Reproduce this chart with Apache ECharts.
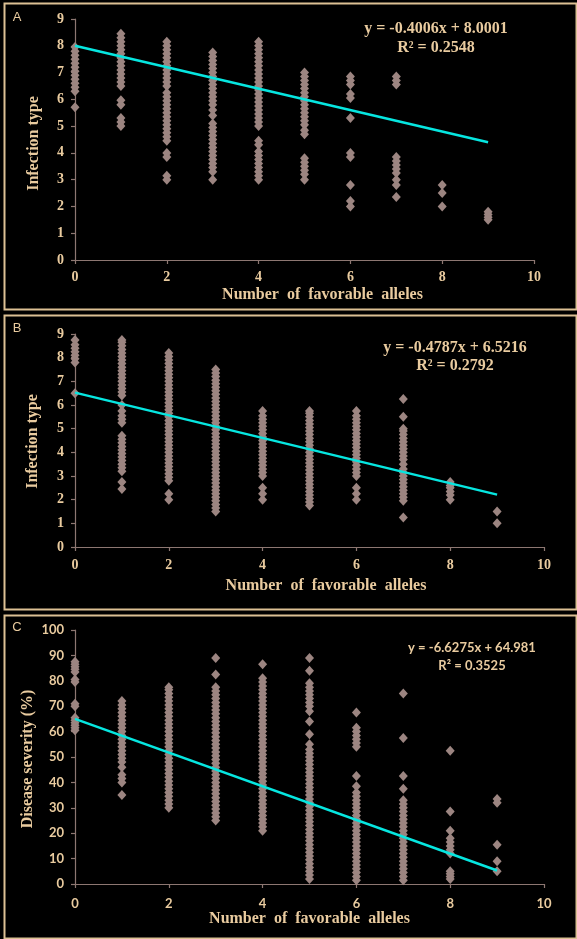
<!DOCTYPE html>
<html><head><meta charset="utf-8">
<script src="https://cdn.jsdelivr.net/npm/echarts@6/dist/echarts.min.js"></script>
<style>html,body{margin:0;padding:0;background:#000;}#c{width:577px;height:939px;}</style>
</head><body><div id="c"></div>
<script>
// ---------- DATA ----------
const xValues = [0, 1, 2, 3, 4, 5, 6, 7, 8, 9];
const xTicks = [0, 2, 4, 6, 8, 10];

// Panel A: infection type by number of favorable alleles
const A0 = [5.7, 6.3, 6.45, 6.6, 6.75, 6.9, 7.05, 7.2, 7.35, 7.5, 7.65, 7.8, 7.95];
const A1 = [5.0, 5.15, 5.3, 5.8, 5.97, 6.5, 6.65, 6.8, 6.95, 7.1, 7.25, 7.4, 7.55, 7.7, 7.85, 8.0, 8.15, 8.3, 8.45];
const A2 = [3.0, 3.15, 3.85, 4.0, 4.45, 4.6, 4.75, 4.9, 5.05, 5.2, 5.35, 5.5, 5.65, 5.8, 5.95, 6.1, 6.25, 6.5, 6.65, 6.8, 6.95, 7.1, 7.25, 7.4, 7.55, 7.7, 7.85, 8.0, 8.15];
const A3 = [3.0, 3.3, 3.45, 3.6, 3.75, 3.9, 4.05, 4.2, 4.35, 4.5, 4.65, 4.8, 4.95, 5.1, 5.4, 5.6, 5.8, 5.95, 6.1, 6.25, 6.4, 6.55, 6.7, 6.85, 7.0, 7.15, 7.3, 7.45, 7.6, 7.75];
const A4 = [3.0, 3.15, 3.3, 3.45, 3.6, 3.75, 3.9, 4.05, 4.3, 4.45, 5.0, 5.15, 5.3, 5.45, 5.6, 5.75, 5.9, 6.05, 6.2, 6.35, 6.5, 6.65, 6.8, 6.95, 7.1, 7.25, 7.4, 7.55, 7.7, 7.85, 8.0, 8.15];
const A5 = [3.0, 3.2, 3.35, 3.5, 3.65, 3.8, 4.7, 4.85, 5.05, 5.2, 5.35, 5.5, 5.65, 5.8, 5.95, 6.1, 6.25, 6.4, 6.55, 6.7, 6.85, 7.0];
const A6 = [2.0, 2.2, 2.8, 3.85, 4.0, 5.3, 6.05, 6.2, 6.55, 6.7, 6.85];
const A7 = [2.35, 2.8, 3.0, 3.25, 3.4, 3.55, 3.7, 3.85, 6.55, 6.7, 6.85];
const A8 = [2.0, 2.5, 2.8];
const A9 = [1.5, 1.6, 1.7, 1.8];
const trendA = [[0, 8.0001], [9, 4.3947]];

// Panel B
const B0 = [6.5, 7.8, 7.95, 8.1, 8.25, 8.4, 8.55, 8.75];
const B1 = [2.45, 2.75, 3.2, 3.35, 3.5, 3.65, 3.8, 3.95, 4.1, 4.25, 4.4, 4.55, 4.7, 5.25, 5.4, 5.55, 5.75, 6.0, 6.4, 6.55, 6.7, 6.85, 7.0, 7.15, 7.3, 7.45, 7.6, 7.75, 7.9, 8.05, 8.2, 8.35, 8.5, 8.65, 8.75];
const B2 = [2.0, 2.25, 2.8, 2.95, 3.1, 3.25, 3.4, 3.55, 3.7, 3.85, 4.0, 4.15, 4.3, 4.45, 4.6, 4.75, 4.9, 5.05, 5.2, 5.35, 5.5, 5.65, 5.8, 5.95, 6.1, 6.25, 6.4, 6.55, 6.7, 6.85, 7.0, 7.15, 7.3, 7.45, 7.6, 7.75, 7.9, 8.05, 8.2];
const B3 = [1.5, 1.65, 1.8, 1.95, 2.1, 2.25, 2.4, 2.55, 2.7, 2.85, 3.0, 3.15, 3.3, 3.45, 3.6, 3.75, 3.9, 4.05, 4.2, 4.35, 4.5, 4.65, 4.8, 4.95, 5.1, 5.25, 5.4, 5.55, 5.7, 5.85, 6.0, 6.15, 6.3, 6.45, 6.6, 6.75, 6.9, 7.05, 7.2, 7.35, 7.5];
const B4 = [2.0, 2.25, 2.5, 3.0, 3.15, 3.3, 3.45, 3.6, 3.75, 3.9, 4.05, 4.2, 4.35, 4.5, 4.65, 4.8, 4.95, 5.1, 5.25, 5.4, 5.55, 5.75];
const B5 = [1.75, 1.9, 2.05, 2.2, 2.35, 2.5, 2.65, 2.8, 2.95, 3.1, 3.25, 3.4, 3.55, 3.7, 3.85, 4.0, 4.15, 4.3, 4.45, 4.6, 4.75, 4.9, 5.05, 5.2, 5.35, 5.5, 5.65, 5.75];
const B6 = [2.0, 2.25, 2.5, 3.0, 3.15, 3.3, 3.45, 3.6, 3.75, 3.9, 4.05, 4.2, 4.35, 4.5, 4.65, 4.8, 4.95, 5.1, 5.25, 5.4, 5.55, 5.75];
const B7 = [1.25, 1.95, 2.1, 2.25, 2.4, 2.55, 2.7, 2.85, 3.0, 3.15, 3.3, 3.5, 3.7, 3.85, 4.0, 4.15, 4.3, 4.45, 4.6, 4.75, 4.9, 5.0, 5.5, 6.25];
const B8 = [2.0, 2.2, 2.35, 2.5, 2.6, 2.75];
const B9 = [1.0, 1.5];
const trendB = [[0, 6.5216], [9, 2.2133]];

// Panel C: disease severity (%)
const C0 = [60.5, 61.5, 62.5, 63.5, 64.5, 65.5, 70, 71, 79.5, 80.5, 83.5, 84.5, 85.5, 86.5, 87.5];
const C1 = [35, 40, 41.5, 43, 46, 48, 49.5, 51, 52.5, 54, 55.5, 57, 58.5, 60, 61.5, 63, 64.5, 66, 67.5, 69, 70.5, 72];
const C2 = [30, 31.5, 33, 34.5, 36, 37.5, 39, 40.5, 42, 43.5, 45, 46.5, 48, 49.5, 51, 52.5, 54, 55.5, 57, 58.5, 60, 61.5, 63, 64.5, 66, 67.5, 69, 70.5, 72, 73.5, 75, 76.5, 77.5];
const C3 = [25, 26.5, 28, 29.5, 31, 32.5, 34, 35.5, 37, 38.5, 40, 41.5, 43, 44.5, 46, 47.5, 49, 50.5, 52, 53.5, 55, 56.5, 58, 59.5, 61, 62.5, 64, 65.5, 67, 68.5, 70, 71.5, 73, 74.5, 76, 77.5, 82.5, 89];
const C4 = [21, 22.5, 24, 25.5, 27, 28.5, 30, 31.5, 33, 34.5, 36, 37.5, 39, 40.5, 42, 43.5, 45, 46.5, 48, 49.5, 51, 52.5, 54, 55.5, 57, 58.5, 60, 61.5, 63, 64.5, 66, 67.5, 69, 70.5, 72, 73.5, 75, 76.5, 78, 79.5, 81, 86.5];
const C5 = [2, 3.5, 5, 6.5, 8, 9.5, 11, 12.5, 14, 15.5, 17, 18.5, 20, 21.5, 23, 24.5, 26, 27.5, 29, 30.5, 32, 33.5, 35, 36.5, 38, 39.5, 41, 42.5, 44, 45.5, 47, 48.5, 50, 51.5, 53, 55, 59, 64, 68, 70, 71.5, 73, 74.5, 76, 77.5, 79, 84, 89];
const C6 = [1.5, 3, 4.5, 6, 7.5, 9, 10.5, 12, 13.5, 15, 16.5, 18, 19.5, 21, 22.5, 24, 25.5, 27, 28.5, 30, 31.5, 33, 34.5, 36, 38.5, 42.5, 54, 55.5, 57, 58.5, 60, 61.5, 67.5];
const C7 = [1.5, 3, 4.5, 6, 7.5, 9, 10.5, 12, 13.5, 15, 16.5, 18, 19.5, 21, 22.5, 24, 25.5, 27, 28.5, 30, 31.5, 33, 37.5, 42.5, 57.5, 75];
const C8 = [2, 3, 4, 5, 12, 13.5, 15, 16.5, 18, 21, 28.5, 52.5];
const C9 = [5, 9, 15.5, 32, 33.5];
const trendC = [[0, 64.981], [9, 5.3335]];

const colsA = [A0, A1, A2, A3, A4, A5, A6, A7, A8, A9];
const colsB = [B0, B1, B2, B3, B4, B5, B6, B7, B8, B9];
const colsC = [C0, C1, C2, C3, C4, C5, C6, C7, C8, C9];

// ---------- STYLE ----------
const TAN = '#e9cb9f';
const BORDER = '#dcc094';
const AXIS = '#8d7772';
const MARK = '#9c8581';
const CYAN = '#06e6e0';
const SERIF = 'Liberation Serif';

function toPoints(cols) {
  const out = [];
  cols.forEach((col, i) => col.forEach(v => out.push([xValues[i], v])));
  return out;
}

function xAxis(gi, labelFont, labelSize, labelMargin, nameGap, shift) {
  return {
    type: 'value', gridIndex: gi, min: 0, max: 10, interval: 2,
    name: 'Number  of  favorable  alleles', nameLocation: 'middle', nameGap: nameGap, nameMoveOverlap: false,
    nameTextStyle: { color: TAN, fontFamily: SERIF, fontWeight: 'bold', fontSize: 16, padding: [0, 0, 0, shift] },
    axisLine: { show: true, onZero: false, lineStyle: { color: AXIS, width: 1.2 } },
    axisTick: { show: true, inside: false, length: 4, lineStyle: { color: AXIS, width: 1.2 } },
    axisLabel: { color: TAN, fontFamily: labelFont, fontWeight: 'bold', fontSize: labelSize, margin: labelMargin,
      formatter: v => xTicks.includes(v) ? String(v) : '' },
    splitLine: { show: false }
  };
}
function yAxis(gi, max, interval, name, labelFont, labelSize, nameGap, pad) {
  return {
    type: 'value', gridIndex: gi, min: 0, max: max, interval: interval,
    name: name, nameLocation: 'middle', nameGap: nameGap, nameMoveOverlap: false,
    nameTextStyle: { color: TAN, fontFamily: SERIF, fontWeight: 'bold', fontSize: 16, padding: pad },
    axisLine: { show: true, onZero: false, lineStyle: { color: AXIS, width: 1.2 } },
    axisTick: { show: true, inside: false, length: 4, lineStyle: { color: AXIS, width: 1.2 } },
    axisLabel: { color: TAN, fontFamily: labelFont, fontWeight: 'bold', fontSize: labelSize, margin: 11 },
    splitLine: { show: false }
  };
}
function scatter(gi, cols) {
  return {
    type: 'scatter', xAxisIndex: gi, yAxisIndex: gi, data: toPoints(cols),
    symbol: 'diamond', symbolSize: [9, 10], itemStyle: { color: MARK, opacity: 1 }, z: 2, silent: true
  };
}
function trend(gi, pts) {
  return {
    type: 'line', xAxisIndex: gi, yAxisIndex: gi, data: pts, symbol: 'none',
    lineStyle: { color: CYAN, width: 2.5 }, z: 5, silent: true
  };
}
function box(top, height) {
  return { type: 'rect', left: 2, top: top, shape: { width: 572, height: height },
    style: { fill: 'none', stroke: BORDER, lineWidth: 2 }, z: 100 };
}
function txt(x, y, text, font, size, weight, align) {
  return { type: 'text', x: x, y: y, z: 100,
    style: { text: text, fill: TAN, font: weight + ' ' + size + 'px "' + font + '"', textAlign: align || 'center', textVerticalAlign: 'middle' } };
}

const chart = echarts.init(document.getElementById('c'), null, { renderer: 'canvas' });
chart.setOption({
  backgroundColor: '#000',
  animation: false,
  grid: [
    { left: 75, right: 43, top: 19, bottom: 679, outerBoundsMode: 'none', containLabel: false },
    { left: 75, right: 33, top: 334, bottom: 392, outerBoundsMode: 'none', containLabel: false },
    { left: 75, right: 33, top: 630, bottom: 55, outerBoundsMode: 'none', containLabel: false }
  ],
  xAxis: [
    xAxis(0, SERIF, 14, 10, 27, 36),
    xAxis(1, SERIF, 14, 11, 31, 33),
    xAxis(2, 'Lato', 13, 13, 27, 0)
  ],
  yAxis: [
    yAxis(0, 9, 1, 'Infection type', SERIF, 14, 33, [0, 8, 0, 0]),
    yAxis(1, 9, 1, 'Infection type', SERIF, 14, 34, [0, 2, 0, 0]),
    yAxis(2, 100, 10, 'Disease severity (%)', 'Lato', 13, 39, [0, 4, 0, 0])
  ],
  series: [
    scatter(0, colsA), trend(0, trendA),
    scatter(1, colsB), trend(1, trendB),
    scatter(2, colsC), trend(2, trendC)
  ],
  graphic: [
    box(1, 306), box(313, 294), box(613, 323),
    txt(17, 17, 'A', 'Liberation Sans', 13, 'normal'),
    txt(17, 328, 'B', 'Liberation Sans', 13, 'normal'),
    txt(17, 627, 'C', 'Liberation Sans', 13, 'normal'),
    txt(436, 29, 'y = -0.4006x + 8.0001', SERIF, 16, 'bold'),
    txt(436, 48, 'R² = 0.2548', SERIF, 16, 'bold'),
    txt(455, 348, 'y = -0.4787x + 6.5216', SERIF, 16, 'bold'),
    txt(455, 366, 'R² = 0.2792', SERIF, 16, 'bold'),
    txt(472, 648, 'y = -6.6275x + 64.981', 'Lato', 13, 'bold'),
    txt(472, 666, 'R² = 0.3525', 'Lato', 13, 'bold')
  ]
});
</script></body></html>
